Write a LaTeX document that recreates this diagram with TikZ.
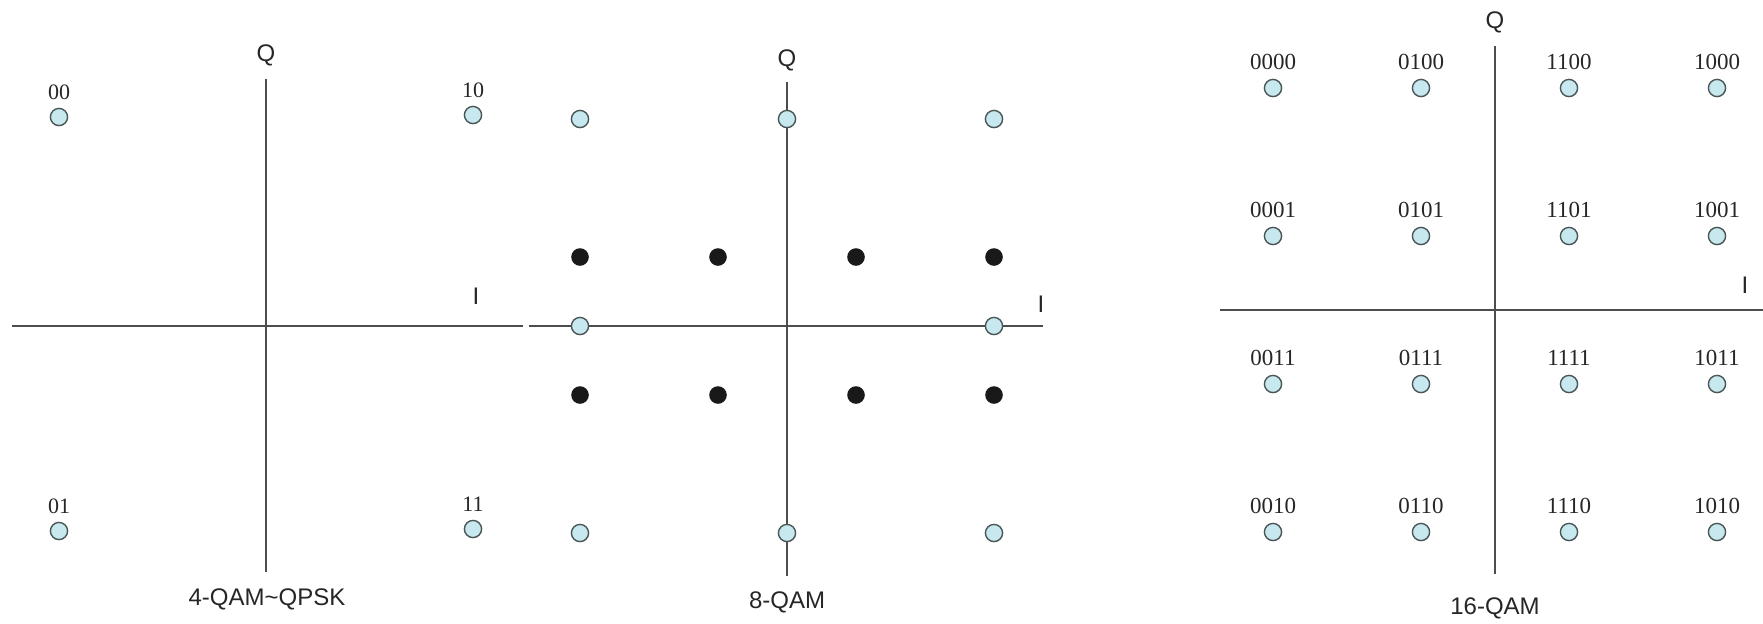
\documentclass[tikz,border=0pt]{standalone}
\usepackage{fontspec}
\setmainfont{Liberation Serif}
\setsansfont{Liberation Sans}
\definecolor{ptfill}{HTML}{C6E8EE}
\definecolor{ptline}{HTML}{4A5656}
\definecolor{axiscol}{HTML}{4D4D4D}
\tikzset{
  bluept/.style={circle, draw=ptline, line width=0.7pt, fill=ptfill, minimum size=8.6pt, inner sep=0pt},
  blackpt/.style={circle, fill=black!90, minimum size=8.8pt, inner sep=0pt},
  bits/.style={font=\fontsize{11}{11}\selectfont, text=black!85},
  bitsbig/.style={font=\fontsize{11.5}{11.5}\selectfont, text=black!85},
  axlabel/.style={font=\sffamily\fontsize{12}{12}\selectfont, text=black!85},
  iqaxis/.style={draw=axiscol, line width=1pt}
}
\begin{document}
\begin{tikzpicture}[x=0.5pt,y=-0.5pt]
\useasboundingbox (0,0) rectangle (1763,623);

% 4-QAM ~ QPSK
\begin{scope}[shift={(266,326)}]
\draw[iqaxis](-254,0)--(257,0);
\draw[iqaxis](0,-247)--(0,246);
\node[axlabel] (qa) at (0,-271) {Q};
\node[axlabel] (ia) at (210,-30) {I};
\foreach \x/\y/\b in {-207/-209/00, 207/-211/10, -207/205/01, 207/203/11}
{
    \node[bluept] (pa\b) at (\x,\y) {};
    \node[bits] (la\b) at (\x,{\y-25}) {\b};
}
\node[axlabel] (ta) at (1,273) {4-QAM\textasciitilde QPSK};
\end{scope}

% 8-QAM
\begin{scope}[shift={(787,326)}]
\draw[iqaxis](-258,0)--(256,0);
\draw[iqaxis](0,-244)--(0,250);
\node[axlabel] (qb) at (0,-266) {Q};
\node[axlabel] (ib) at (254,-22) {I};
\foreach \x/\y [count=\k] in {-3/-3, 0/-3, 3/-3, -3/0, 3/0, -3/3, 0/3, 3/3}
{
    \node[bluept] (pb\k) at (69*\x,69*\y) {};
}
\foreach \x in {-3,-1,1,3}
{
    \foreach \y in {-1,1}
        \node[blackpt] (db\x\y) at (69*\x,69*\y) {};
}
\node[axlabel] (tb) at (0,276) {8-QAM};
\end{scope}

% 16-QAM
\begin{scope}[shift={(1495,310)}]
\draw[iqaxis](-275,0)--(270,0);
\draw[iqaxis](0,-264)--(0,264);
\node[axlabel] (qc) at (0,-288) {Q};
\node[axlabel] (ic) at (250,-25) {I};
\foreach \y/\r in {-3/00, -1/01, 1/11, 3/10}
{
    \foreach \x/\c in {-3/00, -1/01, 1/11, 3/10}
    {
        \node[bluept] (pc\c\r) at (74*\x,74*\y) {};
        \node[bitsbig] (lc\c\r) at (74*\x,{74*\y-26}) {\c\r};
    }
}
\node[axlabel] (tc) at (0,298) {16-QAM};
\end{scope}
\end{tikzpicture}
\end{document}
